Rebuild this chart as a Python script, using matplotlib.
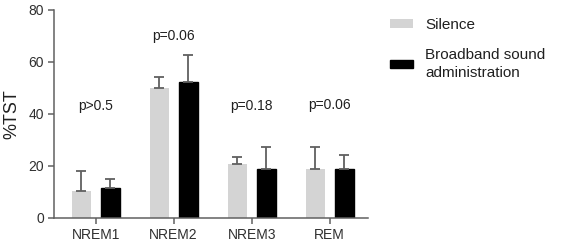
import numpy as np
import matplotlib
matplotlib.use('Agg')
import matplotlib.pyplot as plt

plt.rcParams['font.family'] = ['Liberation Sans', 'DejaVu Sans']

#data
stages = ['NREM1', 'NREM2', 'NREM3', 'REM']
silence = [10.5, 50.1, 20.6, 19.0]
silence_err = [7.5, 4.2, 3.0, 8.2]
sound = [11.4, 52.2, 19.0, 19.0]
sound_err = [3.5, 10.6, 8.2, 5.1]
p_labels = ['p>0.5', 'p=0.06', 'p=0.18', 'p=0.06']
p_heights = [43, 70, 43, 43.5]

axcol = '#606060'
x = np.arange(len(stages))
w = 0.245
off = 0.186

fig = plt.figure(figsize=(5.61, 2.43), dpi=100)
ax = fig.add_axes([0.0968, 0.1029, 0.559, 0.857])

ax.bar(x - off, silence, w, color='#d4d4d4', label='Silence')
ax.bar(x + off, sound, w, color='black', edgecolor='black',
       label='Broadband sound\nadministration')
ax.errorbar(x - off, silence, yerr=[np.zeros(4), silence_err], fmt='none',
            ecolor=axcol, elinewidth=1.3, capsize=3.4, capthick=1.3)
ax.errorbar(x + off, sound, yerr=[np.zeros(4), sound_err], fmt='none',
            ecolor=axcol, elinewidth=1.3, capsize=3.4, capthick=1.3)

for xi, lab, h in zip(x, p_labels, p_heights):
    ax.text(xi, h, lab, ha='center', va='center', fontsize=10, color='#202020')

ax.set_xlim(-0.53, 3.49)
ax.set_ylim(0, 80)
ax.set_yticks([0, 20, 40, 60, 80])
ax.set_xticks(x)
ax.set_xticklabels(stages)
ax.set_ylabel('%TST', fontsize=13, color='#202020', labelpad=6)
for s in ['top', 'right']:
    ax.spines[s].set_visible(False)
for s in ['left', 'bottom']:
    ax.spines[s].set_color(axcol)
    ax.spines[s].set_linewidth(1.1)
ax.tick_params(colors=axcol, labelcolor='#303030', labelsize=10,
               length=4, width=1.1)

h, l = ax.get_legend_handles_labels()
leg = fig.legend(h, l, loc='upper left', bbox_to_anchor=(0.695, 0.925),
                 frameon=False, fontsize=11, borderpad=0, borderaxespad=0,
                 handlelength=1.5, handleheight=0.5, handletextpad=0.8,
                 labelspacing=1.0, labelcolor='#202020')
for t in leg.get_texts():
    t.set_linespacing(1.45)

plt.savefig('out.png', dpi=100)
